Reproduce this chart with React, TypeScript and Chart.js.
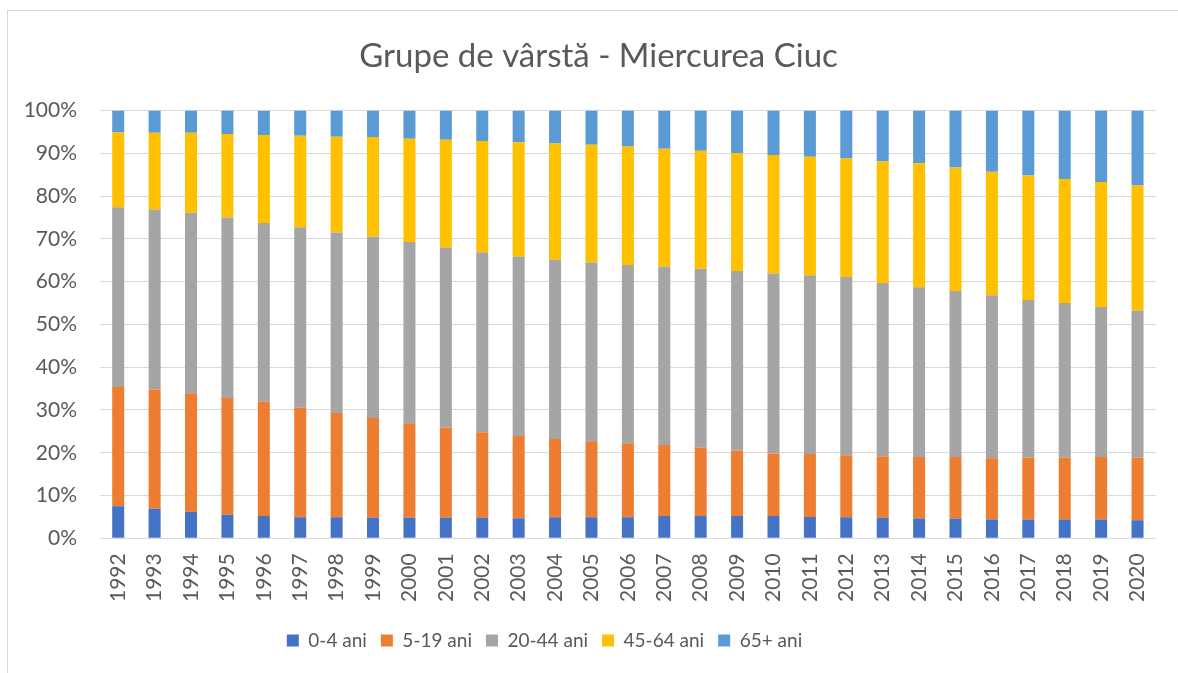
import React, { useEffect, useRef } from "react";
import { Chart, registerables } from "chart.js";

Chart.register(...registerables);

const years = ["1992","1993","1994","1995","1996","1997","1998","1999","2000","2001","2002","2003","2004","2005","2006","2007","2008","2009","2010","2011","2012","2013","2014","2015","2016","2017","2018","2019","2020"];

const age0to4 = [7.5,6.9,6.2,5.5,5.2,4.9,4.9,4.8,4.8,4.8,4.8,4.7,4.9,4.9,4.9,5.2,5.2,5.2,5.2,5.0,4.9,4.8,4.6,4.6,4.4,4.4,4.4,4.4,4.2];
const age5to19 = [27.9,27.9,27.7,27.3,26.7,25.6,24.4,23.3,22.1,21.1,20.0,19.2,18.3,17.8,17.3,16.6,16.0,15.3,14.6,14.7,14.5,14.4,14.4,14.4,14.3,14.5,14.5,14.6,14.7];
const age20to44 = [42.0,42.1,42.2,42.2,41.8,42.2,42.2,42.4,42.4,42.1,42.1,42.0,41.9,41.8,41.7,41.7,41.8,42.0,42.1,41.8,41.7,40.5,39.7,38.8,38.1,36.8,36.1,35.1,34.3];
const age45to64 = [17.5,17.9,18.7,19.5,20.6,21.4,22.4,23.3,24.1,25.2,26.0,26.7,27.2,27.5,27.7,27.6,27.6,27.6,27.7,27.7,27.7,28.4,29.0,28.9,28.9,29.1,29.0,29.2,29.3];
const age65plus = [5.1,5.2,5.2,5.5,5.7,5.9,6.1,6.2,6.6,6.8,7.1,7.4,7.7,8.0,8.4,8.9,9.4,9.9,10.4,10.8,11.2,11.9,12.3,13.3,14.3,15.2,16.0,16.7,17.5];

const seriesLabels = ["0-4 ani", "5-19 ani", "20-44 ani", "45-64 ani", "65+ ani"];
const seriesColors = ["#4472C4", "#ED7D31", "#A5A5A5", "#FFC000", "#5B9BD5"];
const yTicks = [0,10,20,30,40,50,60,70,80,90,100];

const TEXT = "#595959";
const FONT = "Lato, 'Liberation Sans', sans-serif";

const shiftPlugin = {
  id: "shiftBoxes",
  afterLayout(chart: any) {
    const t = chart.titleBlock;
    if (t) { t.left += 17; t.right += 17; }
    const l = chart.legend;
    if (l) { l.left -= 37; l.right -= 37; }
  },
};

export default function App() {
  const ref = useRef<HTMLCanvasElement | null>(null);
  useEffect(() => {
    document.body.style.margin = "0";
    const all = [age0to4, age5to19, age20to44, age45to64, age65plus];
    const chart = new Chart(ref.current as HTMLCanvasElement, {
      type: "bar",
      data: {
        labels: years,
        datasets: all.map((d, i) => ({
          label: seriesLabels[i],
          data: d,
          backgroundColor: seriesColors[i],
          borderWidth: 0,
          barPercentage: 0.33,
          categoryPercentage: 1,
        })),
      },
      options: {
        animation: false,
        responsive: true,
        maintainAspectRatio: false,
        layout: { padding: { left: 0, right: 15, top: 0, bottom: 13 } },
        plugins: {
          title: {
            display: true,
            text: "Grupe de vârstă - Miercurea Ciuc",
            color: TEXT,
            font: { family: FONT, size: 33, weight: "normal" },
            padding: { top: 37, bottom: 34 },
          },
          legend: {
            position: "bottom",
            labels: {
              color: TEXT,
              font: { family: FONT, size: 19 },
              boxWidth: 12,
              boxHeight: 12,
              padding: 14,
            },
          },
          tooltip: { enabled: false },
        },
        scales: {
          x: {
            stacked: true,
            grid: { display: false, drawTicks: false },
            border: { display: false },
            ticks: {
              color: TEXT,
              font: { family: FONT, size: 21 },
              minRotation: 90,
              maxRotation: 90,
              padding: 15,
            },
          },
          y: {
            stacked: true,
            min: 0,
            max: 100,
            afterFit(scale: any) { scale.width = 100; },
            afterBuildTicks(scale: any) { scale.ticks = yTicks.map((v) => ({ value: v })); },
            grid: { color: "#D9D9D9", lineWidth: 1, drawTicks: false },
            border: { display: false },
            ticks: {
              color: TEXT,
              font: { family: FONT, size: 21 },
              padding: 23,
              callback: (v: any) => v + "%",
            },
          },
        },
      },
      plugins: [shiftPlugin],
    });
    return () => chart.destroy();
  }, []);
  return (
    <div style={{ position: "relative", width: 1178, height: 673, overflow: "hidden" }}>
      <canvas ref={ref} />
      <div style={{ position: "absolute", left: 7, top: 10, width: 1200, height: 700, borderLeft: "1px solid #D9D9D9", borderTop: "1px solid #D9D9D9", pointerEvents: "none" }} />
    </div>
  );
}
